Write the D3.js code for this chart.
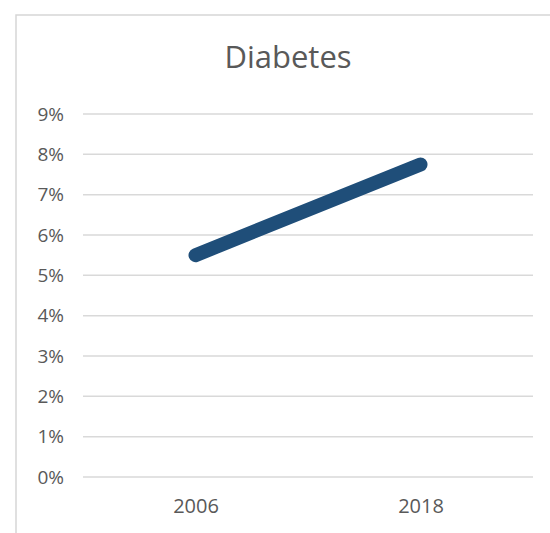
<!DOCTYPE html>
<html>
<head>
<meta charset="utf-8">
<script src="https://cdn.jsdelivr.net/npm/d3@7"></script>
<style>
  html, body { margin: 0; padding: 0; background: #fff; }
  svg { display: block; }
  text { font-family: "Open Sans", "Liberation Sans", sans-serif; fill: #595959; }
</style>
</head>
<body>
<svg id="chart" width="550" height="533"></svg>
<script>
// Diabetes prevalence by survey year
const years = ["2006", "2018"];
const prevalence = [0.055, 0.0775];
const yTicks = [0, 0.01, 0.02, 0.03, 0.04, 0.05, 0.06, 0.07, 0.08, 0.09];
const chartTitle = "Diabetes";

const svg = d3.select("#chart");
const W = 550, H = 533;
const margin = { left: 83, right: 17, top: 114, bottom: 56 };

// chart area frame
svg.append("rect")
  .attr("x", 16).attr("y", 15)
  .attr("width", W - 16 + 10).attr("height", H - 15 + 10)
  .attr("fill", "#fff")
  .attr("stroke", "#d6d6d6")
  .attr("stroke-width", 1.5);

const x = d3.scalePoint()
  .domain(years)
  .range([margin.left, W - margin.right])
  .padding(0.5);

const y = d3.scaleLinear()
  .domain([0, 0.09])
  .range([H - margin.bottom, margin.top]);

// gridlines
svg.append("g")
  .selectAll("line")
  .data(yTicks)
  .join("line")
  .attr("x1", margin.left).attr("x2", W - margin.right)
  .attr("y1", d => y(d)).attr("y2", d => y(d))
  .attr("stroke", "#d9d9d9")
  .attr("stroke-width", 1.5);

// y axis labels
const yAxis = d3.axisLeft(y)
  .tickValues(yTicks)
  .tickFormat(d3.format(".0%"))
  .tickSize(0)
  .tickPadding(19);
const gy = svg.append("g")
  .attr("transform", `translate(${margin.left},0)`)
  .call(yAxis);
gy.select(".domain").remove();
gy.selectAll("text")
  .attr("font-size", 19)
  .attr("fill", "#6a6a6a")
  .style("font-family", "'Open Sans', sans-serif");

// x axis labels
const xAxis = d3.axisBottom(x).tickSize(0).tickPadding(22);
const gx = svg.append("g")
  .attr("transform", `translate(0,${H - margin.bottom})`)
  .call(xAxis);
gx.select(".domain").remove();
gx.selectAll("text")
  .attr("font-size", 20)
  .attr("fill", "#6a6a6a")
  .style("font-family", "'Open Sans', sans-serif");

// series line
const line = d3.line()
  .x((d, i) => x(years[i]))
  .y(d => y(d));
svg.append("path")
  .datum(prevalence)
  .attr("d", line)
  .attr("fill", "none")
  .attr("stroke", "#1f4e79")
  .attr("stroke-width", 14)
  .attr("stroke-linecap", "round");

// title
svg.append("text")
  .attr("x", 288).attr("y", 68)
  .attr("text-anchor", "middle")
  .attr("font-size", 31)
  .attr("fill", "#595959")
  .text(chartTitle);
</script>
</body>
</html>
